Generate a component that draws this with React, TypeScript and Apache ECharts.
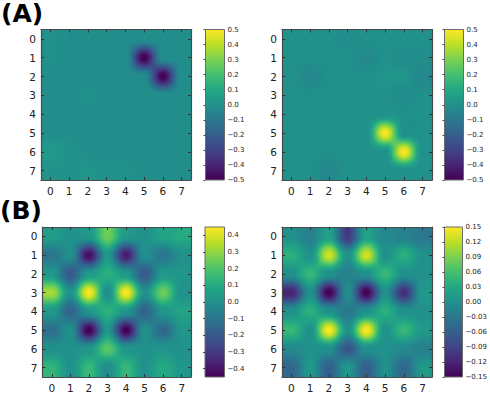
import React, { useEffect, useRef } from "react";
import * as echarts from "echarts";

const axisIndices = ["0", "1", "2", "3", "4", "5", "6", "7"];

const matrixA1 = [
  [0.0, -0.01, -0.01, -0.01, -0.01, -0.01, -0.01, -0.01],
  [0.0, -0.01, -0.01, -0.01, -0.01, -0.5, -0.01, -0.01],
  [-0.01, -0.01, -0.01, -0.02, -0.01, -0.01, -0.5, -0.01],
  [-0.02, -0.01, 0.0, -0.01, -0.01, -0.01, -0.01, -0.01],
  [-0.02, -0.01, -0.01, -0.01, -0.01, -0.01, -0.01, -0.01],
  [-0.01, -0.01, -0.01, -0.01, -0.01, -0.01, -0.02, -0.01],
  [0.04, 0.01, -0.01, -0.01, -0.01, -0.01, -0.01, -0.01],
  [0.01, 0.0, 0.02, 0.0, 0.0, -0.01, -0.01, -0.01],
];
const matrixA2 = [
  [0.0, 0.0, 0.0, -0.01, 0.0, 0.0, 0.0, 0.0],
  [0.0, 0.0, 0.0, 0.0, -0.03, 0.0, -0.02, -0.01],
  [0.0, -0.04, 0.0, 0.0, 0.0, 0.02, 0.02, -0.04],
  [0.0, 0.0, 0.0, 0.0, 0.0, 0.0, -0.02, 0.0],
  [0.0, 0.0, 0.0, 0.0, 0.0, 0.0, 0.0, 0.0],
  [0.0, 0.0, 0.0, 0.0, 0.0, 0.5, -0.01, 0.0],
  [0.0, 0.0, 0.0, 0.0, 0.0, 0.0, 0.5, 0.0],
  [0.0, 0.0, -0.04, 0.0, 0.0, 0.0, 0.0, 0.0],
];
const matrixB1 = [
  [0.05, 0.0, 0.03, 0.25, 0.03, 0.0, 0.07, 0.1],
  [-0.1, 0.0, -0.42, 0.03, -0.38, 0.0, -0.1, 0.0],
  [0.03, -0.2, 0.03, 0.12, 0.03, -0.2, 0.03, 0.02],
  [0.33, 0.0, 0.45, -0.02, 0.45, 0.0, 0.25, 0.0],
  [0.03, -0.16, 0.02, 0.13, 0.02, -0.16, 0.02, 0.07],
  [-0.12, 0.0, -0.45, 0.02, -0.45, 0.0, -0.15, 0.02],
  [0.0, 0.0, 0.02, 0.22, 0.02, 0.0, 0.02, 0.0],
  [0.14, 0.0, 0.15, -0.02, 0.15, 0.0, 0.1, 0.02],
];
const matrixB2 = [
  [0.0, -0.02, 0.02, -0.1, 0.02, -0.01, -0.02, -0.03],
  [0.04, 0.0, 0.13, 0.0, 0.13, 0.0, 0.04, 0.0],
  [0.0, 0.05, 0.0, -0.02, 0.0, 0.05, 0.0, 0.0],
  [-0.12, 0.0, -0.15, 0.0, -0.15, 0.0, -0.11, 0.01],
  [0.0, 0.04, 0.0, -0.03, 0.0, 0.04, 0.0, 0.0],
  [0.05, 0.0, 0.15, 0.0, 0.15, 0.0, 0.05, 0.01],
  [-0.01, 0.0, 0.0, -0.07, 0.0, 0.0, -0.01, -0.02],
  [-0.05, 0.01, -0.06, 0.01, -0.06, 0.0, -0.05, 0.01],
];

const limitsA1 = 0.5;
const limitsA2 = 0.5;
const limitsB1 = 0.45;
const limitsB2 = 0.15;
const ticksA = [-0.5, -0.4, -0.3, -0.2, -0.1, 0, 0.1, 0.2, 0.3, 0.4, 0.5];
const ticksB1 = [-0.4, -0.3, -0.2, -0.1, 0, 0.1, 0.2, 0.3, 0.4];
const ticksB2 = [-0.15, -0.12, -0.09, -0.06, -0.03, 0, 0.03, 0.06, 0.09, 0.12, 0.15];

const viridis = [
  [68, 1, 84], [72, 36, 117], [65, 68, 135], [53, 95, 141], [42, 120, 142],
  [33, 145, 140], [34, 168, 132], [68, 191, 112], [122, 209, 81], [189, 223, 38], [253, 231, 37],
];

function colorAt(t: number) {
  const p = Math.min(0.99999, Math.max(0, t)) * (viridis.length - 1);
  const i = Math.floor(p);
  const f = p - i;
  return viridis[i].map((c, k) => c + (viridis[i + 1][k] - c) * f);
}

function kernel(d: number) {
  const x = Math.abs(d);
  return x < 1 ? 0.5 + 0.5 * Math.cos(Math.PI * x) : 0;
}

function sample(m: number[][], y: number, x: number) {
  const y0 = Math.floor(y);
  const x0 = Math.floor(x);
  let s = 0;
  for (let j = y0; j <= y0 + 1; j++) {
    const wy = kernel(y - j);
    const row = m[Math.min(7, Math.max(0, j))];
    for (let i = x0; i <= x0 + 1; i++) {
      s += wy * kernel(x - i) * row[Math.min(7, Math.max(0, i))];
    }
  }
  return s;
}

const PAD = 0.06;
function cellImage(m: number[][], r: number, c: number, lim: number) {
  const N = 24;
  const cv = document.createElement("canvas");
  cv.width = N;
  cv.height = N;
  const ctx = cv.getContext("2d")!;
  const im = ctx.createImageData(N, N);
  for (let j = 0; j < N; j++) {
    for (let i = 0; i < N; i++) {
      const y = r - 0.5 - PAD + ((j + 0.5) / N) * (1 + 2 * PAD);
      const x = c - 0.5 - PAD + ((i + 0.5) / N) * (1 + 2 * PAD);
      const col = colorAt((sample(m, y, x) + lim) / (2 * lim));
      const o = (j * N + i) * 4;
      im.data[o] = col[0];
      im.data[o + 1] = col[1];
      im.data[o + 2] = col[2];
      im.data[o + 3] = 255;
    }
  }
  ctx.putImageData(im, 0, 0);
  return cv.toDataURL();
}

const FONT = "DejaVu Sans";
const SPINE = "#4a4a4a";

function fmt(decimals: number) {
  return (v: number) => {
    const s = Math.abs(v).toFixed(decimals);
    return v < -1e-9 ? "\u2212" + s : s;
  };
}

function buildOption() {
  const panels = [
    { m: matrixA1, lim: limitsA1, ticks: ticksA, dec: 1, left: 41, top: 29.5, w: 150, h: 150.5, cbL: 205.5, cbW: 19 },
    { m: matrixA2, lim: limitsA2, ticks: ticksA, dec: 1, left: 282, top: 29.5, w: 150, h: 150.5, cbL: 444.5, cbW: 19 },
    { m: matrixB1, lim: limitsB1, ticks: ticksB1, dec: 1, left: 42.5, top: 227, w: 148.5, h: 150, cbL: 205, cbW: 19.5 },
    { m: matrixB2, lim: limitsB2, ticks: ticksB2, dec: 2, left: 282, top: 227, w: 150, h: 150, cbL: 444.5, cbW: 18 },
  ];
  const grid: any[] = [];
  const xAxis: any[] = [];
  const yAxis: any[] = [];
  const series: any[] = [];
  panels.forEach((p) => {
    const g = grid.length;
    grid.push({ left: p.left, top: p.top, width: p.w, height: p.h });
    const tick = { show: true, alignWithLabel: true, inside: true, length: 3, lineStyle: { color: "#333", width: 1 } };
    const line = { show: true, onZero: false, lineStyle: { color: SPINE, width: 1.2 } };
    const label = { color: "#222", fontFamily: FONT, fontSize: 10.5, margin: 5 };
    const xi = xAxis.length;
    xAxis.push({ type: "category", gridIndex: g, data: axisIndices, position: "bottom", z: 5, axisLine: line, axisTick: tick, axisLabel: label, splitLine: { show: false } });
    xAxis.push({ type: "category", gridIndex: g, data: axisIndices, position: "top", z: 5, axisLine: line, axisTick: tick, axisLabel: { show: false }, splitLine: { show: false } });
    const yi = yAxis.length;
    yAxis.push({ type: "category", gridIndex: g, inverse: true, data: axisIndices, position: "left", z: 5, axisLine: line, axisTick: tick, axisLabel: label, splitLine: { show: false } });
    yAxis.push({ type: "category", gridIndex: g, inverse: true, data: axisIndices, position: "right", z: 5, axisLine: line, axisTick: tick, axisLabel: { show: false }, splitLine: { show: false } });

    const cells: number[][] = [];
    const images: string[] = [];
    p.m.forEach((row, r) =>
      row.forEach((v, c) => {
        cells.push([c, r, v]);
        images.push(cellImage(p.m, r, c, p.lim));
      }),
    );
    series.push({
      type: "custom",
      xAxisIndex: xi,
      yAxisIndex: yi,
      clip: true,
      silent: true,
      data: cells,
      renderItem: (params: any, api: any) => {
        const pt = api.coord([api.value(0), api.value(1)]);
        const sz = api.size([1, 1]);
        return {
          type: "image",
          style: {
            image: images[params.dataIndex],
            x: pt[0] - sz[0] * (0.5 + PAD),
            y: pt[1] - sz[1] * (0.5 + PAD),
            width: sz[0] * (1 + 2 * PAD),
            height: sz[1] * (1 + 2 * PAD),
          },
        };
      },
    });

    // colour bar
    const gb = grid.length;
    grid.push({ left: p.cbL, top: p.top, width: p.cbW, height: p.h });
    const xb = xAxis.length;
    xAxis.push({ type: "value", gridIndex: gb, min: 0, max: 1, show: false });
    const yb = yAxis.length;
    yAxis.push({
      type: "value",
      gridIndex: gb,
      position: "right",
      min: -p.lim,
      max: p.lim,
      z: 5,
      splitLine: { show: false },
      axisLine: { show: false },
      axisTick: { show: true, inside: true, length: 2, customValues: p.ticks, lineStyle: { color: "#444", width: 1 } },
      axisLabel: { color: "#222", fontFamily: FONT, fontSize: 7, margin: 3, customValues: p.ticks, formatter: fmt(p.dec), hideOverlap: false },
    });
    series.push({
      type: "custom",
      xAxisIndex: xb,
      yAxisIndex: yb,
      silent: true,
      clip: false,
      data: [[0, p.lim, 1, -p.lim]],
      renderItem: (_: any, api: any) => {
        const a = api.coord([api.value(0), api.value(1)]);
        const b = api.coord([api.value(2), api.value(3)]);
        return {
          type: "rect",
          shape: { x: a[0], y: a[1], width: b[0] - a[0], height: b[1] - a[1] },
          style: {
            fill: new echarts.graphic.LinearGradient(
              0, 1, 0, 0,
              viridis.map((c, i) => ({ offset: i / (viridis.length - 1), color: `rgb(${c.join(",")})` })),
            ),
            stroke: "#6a6a6a",
            lineWidth: 1,
          },
        };
      },
    });
  });

  return {
    animation: false,
    backgroundColor: "#fff",
    grid,
    xAxis,
    yAxis,
    series,
    graphic: [
      { type: "text", x: 1, y: 1, style: { text: "(A)", fontFamily: FONT, fontWeight: "bold", fontSize: 25, fill: "#000" } },
      { type: "text", x: 0, y: 198, style: { text: "(B)", fontFamily: FONT, fontWeight: "bold", fontSize: 25, fill: "#000" } },
    ],
  };
}

export default function App() {
  const ref = useRef<HTMLDivElement>(null);
  useEffect(() => {
    const chart = echarts.init(ref.current!, undefined, { renderer: "svg" });
    chart.setOption(buildOption() as any);
    return () => chart.dispose();
  }, []);
  return <div ref={ref} style={{ position: "absolute", left: 0, top: 0, width: 490, height: 395 }} />;
}
